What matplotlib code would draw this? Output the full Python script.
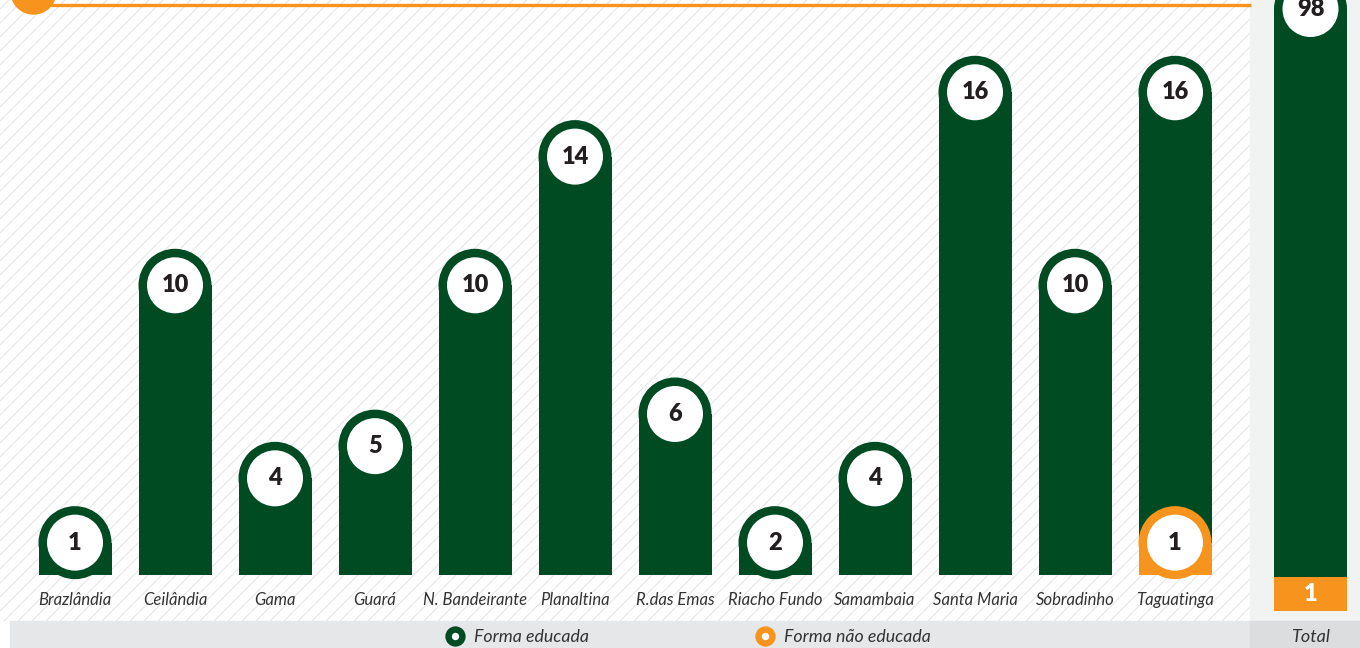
import numpy as np
import matplotlib
matplotlib.use('Agg')
import matplotlib.pyplot as plt
from matplotlib.patches import Rectangle, Ellipse, Circle
from matplotlib.collections import LineCollection

plt.rcParams['font.family'] = ['Lato', 'DejaVu Sans']

# data
regioes = ['Brazlândia', 'Ceilândia', 'Gama', 'Guará', 'N. Bandeirante', 'Planaltina',
           'R.das Emas', 'Riacho Fundo', 'Samambaia', 'Santa Maria', 'Sobradinho', 'Taguatinga']
educada = [1, 10, 4, 5, 10, 14, 6, 2, 4, 16, 10, 16]
nao_educada = [0, 0, 0, 0, 0, 0, 0, 0, 0, 0, 0, 1]
legenda = ['Forma educada', 'Forma não educada']

GREEN = '#004b22'
ORANGE = '#f7941d'
TXT = '#231f20'

W, H = 1360, 648
fig = plt.figure(figsize=(W / 100, H / 100), dpi=100)

# background in pixel coords
bg = fig.add_axes([0, 0, 1, 1])
bg.set_xlim(0, W)
bg.set_ylim(H, 0)
bg.axis('off')
bg.add_patch(Rectangle((0, 0), W, H, color='white', zorder=0))
clip = Rectangle((10, 0), 1240, 621, transform=bg.transData)
segs = [[(c, 621), (c + 621, 0)] for c in range(-640, 1260, 14)]
lc = LineCollection(segs, colors='#e6e6e6', linewidths=0.8, zorder=1)
lc.set_clip_path(clip)
bg.add_collection(lc)
bg.add_patch(Rectangle((10, 621), 1240, 27, color='#e6e7e8', zorder=2))
bg.add_patch(Rectangle((1250, 0), 110, 621, color='#f1f2f2', zorder=2))
bg.add_patch(Rectangle((1250, 621), 110, 27, color='#dcdddf', zorder=2))
bg.plot([50, 1251], [5, 5], color=ORANGE, lw=2.4, zorder=3, solid_capstyle='butt')
bg.add_patch(Circle((33.5, -8.5), 22.5, color=ORANGE, zorder=4))

# legend
for xm, col, lab in [(455, GREEN, legenda[0]), (765, ORANGE, legenda[1])]:
    bg.plot(xm, 636, marker='o', ms=10, mew=4.6, mfc='white', mec=col, zorder=5)
    bg.text(xm + 19, 636.5, lab, ha='left', va='center', fontsize=12.8,
            style='italic', color='#333333', zorder=5)
bg.text(1310.5, 636.5, 'Total', ha='center', va='center', fontsize=13,
        style='italic', color='#333333', zorder=5)

# main chart
ppu = 32.17          # pixels per unit
base_px = 607        # value 0
ax = fig.add_axes([10 / W, (H - 621) / H, 1240 / W, 621 / H])
ax.set_xlim(-0.65, 11.75)
ax.set_ylim((base_px - 621) / ppu, base_px / ppu)
ax.axis('off')
ax.patch.set_alpha(0)

bw = 0.73
wc_w = 0.56


def draw_bar(a, x, v, color, label, capu):
    hv = max(v, 2)
    a.add_patch(Rectangle((x - bw / 2, 1), bw, hv - 1, color=color, lw=0, zorder=3))
    a.add_patch(Ellipse((x, hv), bw, 73 / capu, color=color, lw=0, zorder=3))
    a.add_patch(Ellipse((x, hv), wc_w, 56 / capu, color='white', lw=0, zorder=4))
    a.text(x, hv, str(label), ha='center', va='center', fontsize=17,
           fontweight='heavy', color=TXT, zorder=5)


for i, (r, e, n) in enumerate(zip(regioes, educada, nao_educada)):
    draw_bar(ax, i, e, GREEN, e, ppu)
    if n > 0:
        draw_bar(ax, i, n, ORANGE, n, ppu)
    ax.text(i, (base_px - 600) / ppu, r, ha='center', va='center', fontsize=12,
            style='italic', color='#333333')

# total panel
tot_e = sum(educada)
tot_n = sum(nao_educada)
tppu = 34
tbase = 611
tax = fig.add_axes([1250 / W, (H - 621) / H, 110 / W, 621 / H])
tax.set_xlim(-0.605, 0.495)
ylo, yhi = (tbase - 621) / tppu, tbase / tppu
tax.set_ylim(ylo, yhi)
tax.axis('off')
tax.patch.set_alpha(0)
tax.add_patch(Rectangle((-bw / 2, 0), bw, tot_n, color=ORANGE, lw=0, zorder=3))
tax.text(0, tot_n / 2, str(tot_n), ha='center', va='center', fontsize=17,
         fontweight='heavy', color='white', zorder=5)
ytop_c = yhi - 9 / tppu   # total bar is cut by the top of the frame
tax.add_patch(Rectangle((-bw / 2, tot_n), bw, ytop_c - tot_n, color=GREEN, lw=0, zorder=3))
tax.add_patch(Ellipse((0, ytop_c), bw, 73 / tppu, color=GREEN, lw=0, zorder=3))
tax.add_patch(Ellipse((0, ytop_c), wc_w, 56 / tppu, color='white', lw=0, zorder=4))
tax.text(0, ytop_c, str(tot_e), ha='center', va='center', fontsize=17,
         fontweight='heavy', color=TXT, zorder=5)

fig.savefig('out.png', dpi=100)
